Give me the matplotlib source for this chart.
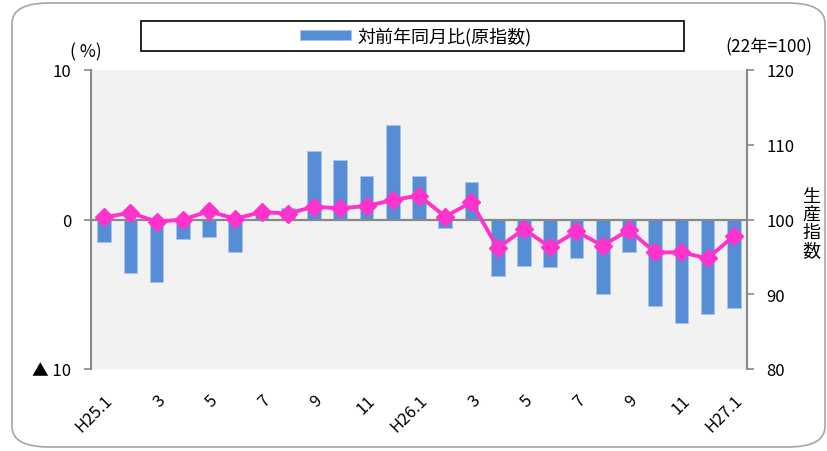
import matplotlib
matplotlib.use("Agg")
import matplotlib.pyplot as plt
from matplotlib.patches import FancyBboxPatch, Rectangle

plt.rcParams['font.family'] = ['Noto Sans CJK JP', 'DejaVu Sans']

# months H25.1 .. H27.1
months = ["H25.1", "2", "3", "4", "5", "6", "7", "8", "9", "10", "11", "12",
          "H26.1", "2", "3", "4", "5", "6", "7", "8", "9", "10", "11", "12",
          "H27.1"]
yoy_pct = [-1.5, -3.6, -4.2, -1.3, -1.2, -2.2, 0.7, 0.8, 4.6, 4.0, 2.9, 6.3,
           2.9, -0.6, 2.5, -3.8, -3.1, -3.2, -2.6, -5.0, -2.2, -5.8, -6.9, -6.3,
           -5.9]
prod_index = [100.3, 100.9, 99.7, 100.0, 101.1, 100.1, 101.0, 100.8, 101.7, 101.5,
              101.8, 102.6, 103.2, 100.4, 102.3, 96.2, 98.7, 96.3, 98.4, 96.5,
              98.6, 95.6, 95.6, 94.8, 97.8]
bar_label = "対前年同月比(原指数)"

BAR_COLOR = "#558ED5"
LINE_COLOR = "#FF33CC"
GRAY = "#898989"

fig = plt.figure(figsize=(8.28, 4.52), dpi=100)

# outer rounded frame
frame = FancyBboxPatch((12 / 828, 4 / 452), 813 / 828, 444 / 452,
                       boxstyle="round,pad=0,rounding_size=0.045",
                       transform=fig.transFigure, fill=False,
                       edgecolor="#A6A6A6", linewidth=1.2)
fig.patches.append(frame)

ax = fig.add_axes([91 / 828, 1 - 370 / 452, (747 - 91) / 828, (370 - 71) / 452])
ax.set_facecolor("#F2F2F2")
x = list(range(len(months)))
bars = ax.bar(x, yoy_pct, width=0.52, color=BAR_COLOR, edgecolor="#A9C4EB",
              linewidth=0.6, label=bar_label, zorder=2)
ax.axhline(0, color=GRAY, linewidth=1.6, zorder=3)
ax.set_xlim(-0.5, len(months) - 0.5)
ax.set_ylim(-10, 10)
ax.set_yticks([-10, 0, 10])
ax.set_yticklabels(["▲ 10", "0", "10"])
ax.set_xticks(x[::2])
ax.set_xticklabels(months[::2], rotation=45, ha="right", rotation_mode="anchor")
ax.tick_params(axis="x", length=0, pad=16, labelsize=12)
ax.tick_params(axis="y", direction="out", length=5, width=1.2, color=GRAY,
               pad=9, labelsize=12)
for s in ("top", "bottom", "right"):
    ax.spines[s].set_visible(False)
ax.spines["left"].set_color(GRAY)
ax.spines["left"].set_linewidth(1.5)

ax2 = ax.twinx()
ax2.plot(x, prod_index, color=LINE_COLOR, linewidth=2.8, marker="D",
         markersize=9, zorder=5)
ax2.set_ylim(80, 120)
ax2.set_yticks([80, 90, 100, 110, 120])
ax2.tick_params(axis="y", direction="out", length=5, width=1.2, color=GRAY,
                pad=9, labelsize=12)
for s in ("top", "bottom", "left"):
    ax2.spines[s].set_visible(False)
ax2.spines["right"].set_color(GRAY)
ax2.spines["right"].set_linewidth(1.5)

# unit labels
fig.text(86 / 828, 1 - 52 / 452, "( %)", ha="center", va="center", fontsize=12.5)
fig.text(769 / 828, 1 - 47 / 452, "(22年=100)", ha="center", va="center", fontsize=12.5)
fig.text(811 / 828, 1 - 224 / 452, "生\n産\n指\n数", ha="center", va="center",
         fontsize=13, linespacing=1.0)

# legend box
fig.patches.append(Rectangle((141 / 828, 1 - 52 / 452), 543 / 828, 30 / 452,
                             transform=fig.transFigure, fill=False,
                             edgecolor="black", linewidth=1.2))
fig.legend(handles=[bars], labels=[bar_label], loc="center",
           bbox_to_anchor=(416 / 828, 1 - 37 / 452), frameon=False,
           fontsize=13, handlelength=2.8, handleheight=0.55, handletextpad=0.35)

fig.savefig("out.png", dpi=100)
